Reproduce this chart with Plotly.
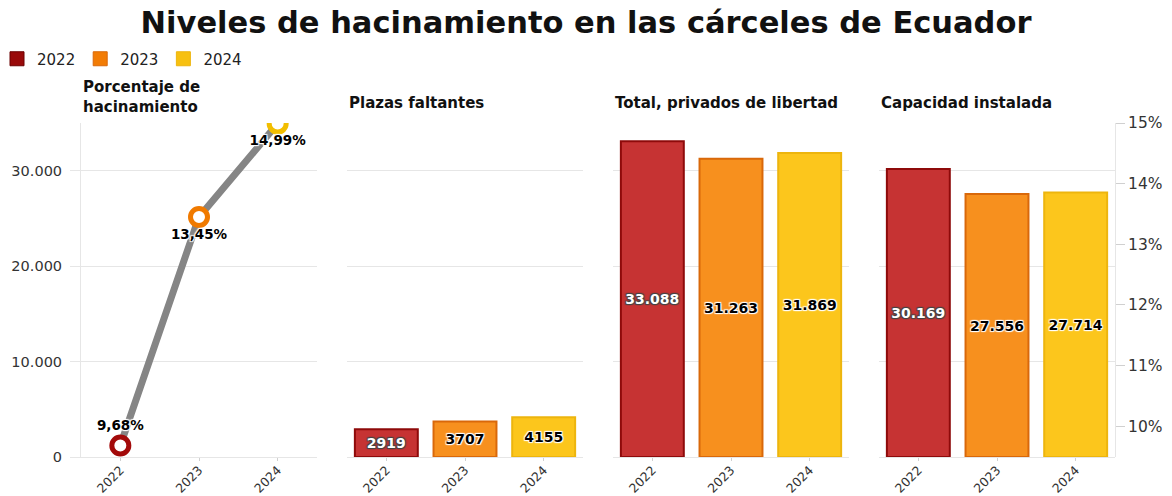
import plotly.graph_objects as go

years = ["2022", "2023", "2024"]
hacinamiento_pct = [9.68, 13.45, 14.99]
plazas_faltantes = [2919, 3707, 4155]
total_privados = [33088, 31263, 31869]
capacidad_instalada = [30169, 27556, 27714]
panel_titles = ["Porcentaje de<br>hacinamiento", "Plazas faltantes",
                "Total, privados de libertad", "Capacidad instalada"]

fill_colors = ["#C63333", "#F7901E", "#FCC61C"]
edge_colors = ["#8E0A0A", "#D9680A", "#EDB50E"]
ring_colors = ["#A30A0A", "#F07A00", "#F2BE00"]
legend_colors = ["#990A0A", "#F27C05", "#F7C010"]
label_colors = ["white", "black", "black"]

W, H = 1172, 496
L, R, T, B = 81, 57, 123, 39
pw = W - L - R
ph = H - T - B
panel_w, gap = 236, 30
domains = []
for i in range(4):
    s = i * (panel_w + gap)
    domains.append([s / pw, min(1.0, (s + panel_w) / pw)])

FONT = "DejaVu Sans"
grid = "#e6e6e6"

fig = go.Figure()

# line on secondary percentage axis (panel 1)
fig.add_trace(go.Scatter(
    x=years, y=hacinamiento_pct, xaxis="x", yaxis="y5",
    mode="lines+markers+text",
    line=dict(color="#858585", width=7),
    marker=dict(size=17, color="white", line=dict(color=ring_colors, width=5)),
    texttemplate="%{y:.2f}%",
    textposition=["top center", "bottom center", "bottom center"],
    textfont=dict(family=FONT, size=13.5, color="black", weight="bold", shadow="auto"),
    showlegend=False, hoverinfo="skip",
))

bar_sets = [(plazas_faltantes, "%{y:d}"), (total_privados, "%{y:,d}"),
            (capacidad_instalada, "%{y:,d}")]
for k, (vals, tmpl) in enumerate(bar_sets):
    n = k + 2
    fig.add_trace(go.Bar(
        x=years, y=vals, xaxis=f"x{n}", yaxis=f"y{n}",
        marker=dict(color=fill_colors, line=dict(color=edge_colors, width=2)),
        texttemplate=tmpl, textposition="inside", insidetextanchor="middle",
        textangle=0,
        textfont=dict(family=FONT, size=14, color=label_colors, weight="bold", shadow="auto"),
        showlegend=False, hoverinfo="skip",
    ))

for y, c, e in zip(years, legend_colors, edge_colors):
    fig.add_trace(go.Scatter(
        x=[None], y=[None], xaxis="x", yaxis="y", mode="markers", name=y,
        marker=dict(symbol="square", size=14, color=c,
                    line=dict(color="#6b0000" if y == "2022" else e, width=1)),
    ))

layout = dict(
    width=W, height=H,
    margin=dict(l=L, r=R, t=T, b=B, autoexpand=False),
    paper_bgcolor="white", plot_bgcolor="white",
    separators=",.",
    font=dict(family=FONT, color="#333"),
    barmode="group", bargap=0.2,
    title=dict(text="<b>Niveles de hacinamiento en las cárceles de Ecuador</b>",
               x=0.5, xanchor="center", y=1 - 22 / H, yanchor="middle", yref="container",
               font=dict(family=FONT, size=30.5, color="#111")),
    legend=dict(orientation="h", x=-84 / pw, xanchor="left", y=(H - B - 59) / ph,
                yanchor="middle", font=dict(size=15, color="#222"), itemwidth=30,
                bgcolor="rgba(0,0,0,0)"),
    annotations=[],
)

for i in range(4):
    n = "" if i == 0 else str(i + 1)
    layout[f"xaxis{n}"] = dict(
        domain=domains[i], anchor=f"y{n}", type="category", range=[-0.5, 2.5],
        tickangle=-45, ticks="outside", ticklen=3, tickcolor="#d0d0d0",
        ticklabelstandoff=-3,
        showline=True, linecolor=grid, linewidth=1, automargin=False,
        tickfont=dict(size=12.5, color="#333"), showgrid=False, fixedrange=True,
    )
    ya = dict(
        domain=[0, 1], anchor=f"x{n}", range=[0, 35000], dtick=10000,
        showgrid=True, gridcolor=grid, zeroline=False, fixedrange=True, automargin=False,
    )
    if i == 0:
        ya.update(showline=True, linecolor=grid, ticks="outside", ticklen=10,
                  tickcolor=grid, tickformat=",d", ticklabelstandoff=5,
                  tickfont=dict(size=14.5, color="#333"))
    else:
        ya.update(matches="y", showticklabels=False, ticks="")
    layout[f"yaxis{n}"] = ya
    ann_y = (H - B - (97 if i == 0 else 103)) / ph
    layout["annotations"].append(dict(
        text=f"<b>{panel_titles[i]}</b>", xref="paper", yref="paper",
        x=domains[i][0], y=ann_y, xanchor="left", yanchor="middle", align="left",
        showarrow=False, font=dict(family=FONT, size=15, color="#111"),
    ))

layout["yaxis5"] = dict(
    overlaying="y", side="right", anchor="free", position=1.0,
    range=[9.49, 15], dtick=1, ticksuffix="%", showgrid=False, zeroline=False,
    showline=True, linecolor=grid, ticks="outside", ticklen=9, tickcolor="#d0d0d0",
    tickfont=dict(size=15.5, color="#333"), fixedrange=True, automargin=False,
)

fig.update_layout(**layout)
fig.write_html("out.html")
